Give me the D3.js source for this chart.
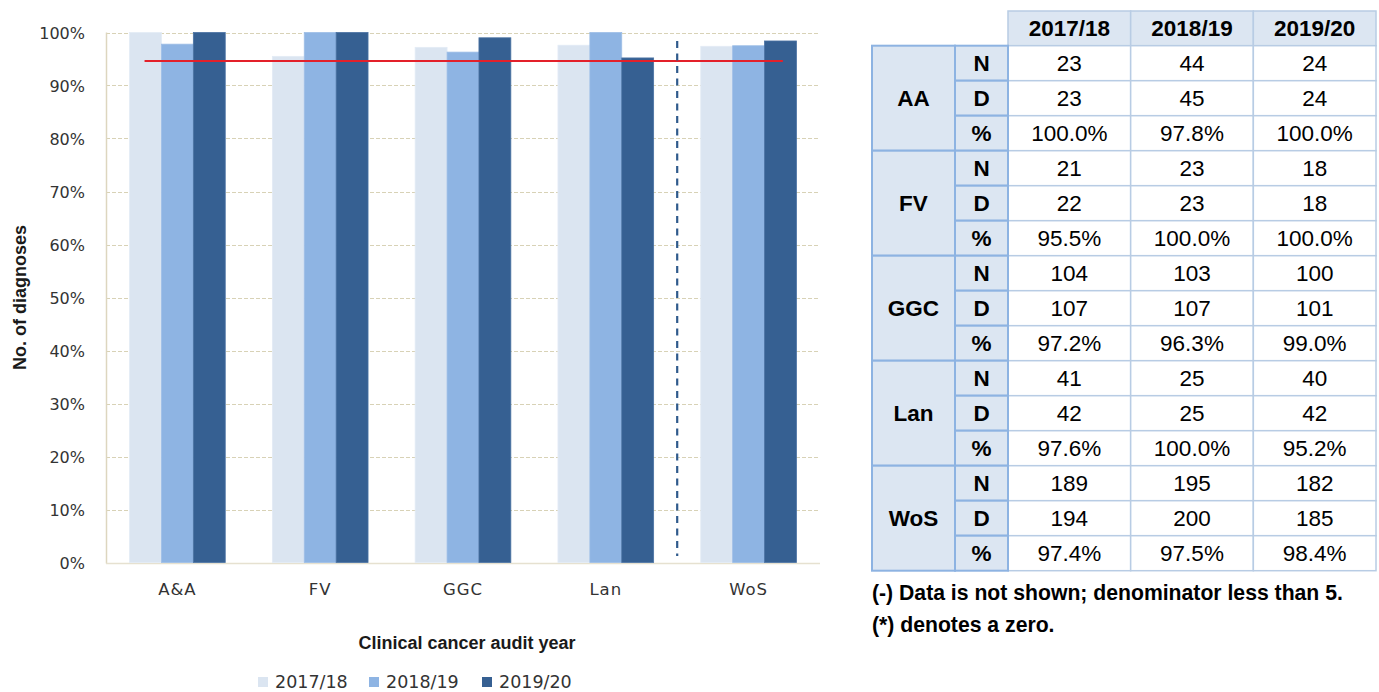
<!DOCTYPE html>
<html>
<head>
<meta charset="utf-8">
<script src="https://cdn.jsdelivr.net/npm/d3@7"></script>
<style>
  html, body { margin: 0; padding: 0; background: #fff; }
  svg { display: block; }
</style>
</head>
<body>
<svg id="root" width="1379" height="692"></svg>
<script>
// Health boards as labelled on the chart and in the table
const categories = ["A&A", "FV", "GGC", "Lan", "WoS"];
const boardCodes = ["AA", "FV", "GGC", "Lan", "WoS"];
const years = ["2017/18", "2018/19", "2019/20"];

// Numerators (N) and denominators (D) per board, one entry per year
const numerN = [[23, 44, 24], [21, 23, 18], [104, 103, 100], [41, 25, 40], [189, 195, 182]];
const denomD = [[23, 45, 24], [22, 23, 18], [107, 107, 101], [42, 25, 42], [194, 200, 185]];
// Percentages per board, one entry per year
const pctValues = [[100.0, 97.8, 100.0], [95.5, 100.0, 100.0], [97.2, 96.3, 99.0], [97.6, 100.0, 95.2], [97.4, 97.5, 98.4]];

const targetLevel = 94.6;
const yTicks = [0, 10, 20, 30, 40, 50, 60, 70, 80, 90, 100];
const rowLetters = ["N", "D", "%"];
const footnotes = ["(-) Data is not shown; denominator less than 5.", "(*) denotes a zero."];

const seriesColors = ["#dbe5f1", "#8eb4e3", "#366092"];
const seriesStroke = ["#e3ebf5", "#9dbde6", "#4a72a3"];

const svg = d3.select("#root");

// ---------- Bar chart ----------
const plot = { left: 106, right: 820, top: 32.5, bottom: 562.5 };

const x = d3.scaleBand().domain(categories).range([plot.left, plot.right]).paddingInner(0.33).paddingOuter(0.165);
const xs = d3.scaleBand().domain(years).range([0, x.bandwidth()]);
const y = d3.scaleLinear().domain([0, 100]).range([plot.bottom, plot.top]);
const xFull = d3.scaleBand().domain(categories).range([plot.left, plot.right]);

const chart = svg.append("g");
const chartFont = "DejaVu Sans, Verdana, sans-serif";
const titleFont = "Liberation Sans, Arial, sans-serif";

// Dashed gridlines
chart.append("g").selectAll("line").data(yTicks.filter(d => d > 0)).join("line")
  .attr("x1", plot.left).attr("x2", plot.right)
  .attr("y1", d => Math.round(y(d)) + 0.5).attr("y2", d => Math.round(y(d)) + 0.5)
  .attr("stroke", "#d8d2b6").attr("stroke-width", 1.2).attr("stroke-dasharray", "4,2");

// Axis lines
chart.append("line").attr("x1", plot.left + 0.5).attr("x2", plot.left + 0.5)
  .attr("y1", plot.top).attr("y2", plot.bottom + 1).attr("stroke", "#ddd6bf").attr("stroke-width", 1.5);
chart.append("line").attr("x1", plot.left).attr("x2", plot.right)
  .attr("y1", plot.bottom + 1).attr("y2", plot.bottom + 1).attr("stroke", "#e6e1d0").attr("stroke-width", 1.5);

// Bars
const groups = chart.append("g").selectAll("g").data(categories).join("g")
  .attr("transform", d => `translate(${x(d)},0)`);
groups.selectAll("rect").data((d, i) => years.map((yr, j) => ({ yr, j, v: pctValues[i][j] }))).join("rect")
  .attr("x", d => xs(d.yr))
  .attr("width", xs.bandwidth())
  .attr("y", d => y(d.v))
  .attr("height", d => y(0) - y(d.v))
  .attr("fill", d => seriesColors[d.j])
  .attr("stroke", d => seriesStroke[d.j])
  .attr("stroke-width", 0.8);

// Target line
chart.append("line")
  .attr("x1", xFull(categories[0]) + xFull.bandwidth() * 0.27)
  .attr("x2", xFull(categories[4]) + xFull.bandwidth() * 0.74)
  .attr("y1", y(targetLevel)).attr("y2", y(targetLevel))
  .attr("stroke", "#e3202a").attr("stroke-width", 2);

// Separator between boards and region total
chart.append("line")
  .attr("x1", xFull(categories[4])).attr("x2", xFull(categories[4]))
  .attr("y1", 41).attr("y2", 556)
  .attr("stroke", "#2f5a8c").attr("stroke-width", 2.2).attr("stroke-dasharray", "7,5.5");

// Y axis tick labels
const yAxis = d3.axisLeft(y).tickValues(yTicks).tickFormat(d => d + "%").tickSize(0).tickPadding(21);
const yg = chart.append("g").attr("transform", `translate(${plot.left},0)`).call(yAxis);
yg.select(".domain").remove();
yg.selectAll("text").attr("font-family", chartFont).attr("font-size", 16)
  .attr("fill", "#333").attr("dy", "0.36em");

// X axis labels
const xAxis = d3.axisBottom(xFull).tickSize(0).tickPadding(21);
const xg = chart.append("g").attr("transform", `translate(0,${plot.bottom})`).call(xAxis);
xg.select(".domain").remove();
xg.selectAll("text").attr("font-family", chartFont).attr("font-size", 16.5)
  .attr("fill", "#333").attr("letter-spacing", 1);

// Axis titles
chart.append("text").attr("x", (plot.left + plot.right) / 2 + 4).attr("y", 649)
  .attr("text-anchor", "middle").attr("font-family", titleFont)
  .attr("font-weight", "bold").attr("font-size", 18).attr("fill", "#1a1a1a")
  .text("Clinical cancer audit year");
chart.append("text")
  .attr("transform", `translate(26,${(plot.top + plot.bottom) / 2}) rotate(-90)`)
  .attr("text-anchor", "middle").attr("font-family", titleFont)
  .attr("font-weight", "bold").attr("font-size", 18).attr("fill", "#1a1a1a")
  .text("No. of diagnoses");

// Legend
const legendX = [258, 369, 482];
const legend = chart.append("g").selectAll("g").data(years).join("g")
  .attr("transform", (d, i) => `translate(${legendX[i]},677)`);
legend.append("rect").attr("width", 10).attr("height", 10).attr("fill", (d, i) => seriesColors[i]);
legend.append("text").attr("x", 17).attr("y", 5).attr("dy", "0.36em")
  .attr("font-family", chartFont).attr("font-size", 17.5).attr("fill", "#333")
  .text(d => d);

// ---------- Table ----------
const tbl = svg.append("g");
const tableFont = "Liberation Sans, Arial, sans-serif";
const colGroup = [872, 955];
const colLetter = [955, 1008];
const colYear = d3.scaleBand().domain(years).range([1008, 1376]);
const headerTop = 11, headerBottom = 45.7;
const rowIdx = d3.range(boardCodes.length * 3);
const row = d3.scaleBand().domain(rowIdx).range([headerBottom, 570.7]);

const lightFill = "#dce6f2";
const strongLine = "#8db3e2";
const softLine = "#b8cce4";

// Header cells
tbl.append("g").selectAll("rect").data(years).join("rect")
  .attr("x", d => colYear(d)).attr("y", headerTop)
  .attr("width", colYear.bandwidth()).attr("height", headerBottom - headerTop)
  .attr("fill", lightFill).attr("stroke", softLine).attr("stroke-width", 1.5);
tbl.append("g").selectAll("text").data(years).join("text")
  .attr("x", d => colYear(d) + colYear.bandwidth() / 2).attr("y", (headerTop + headerBottom) / 2)
  .attr("dy", "0.36em").attr("text-anchor", "middle")
  .attr("font-family", tableFont).attr("font-weight", "bold").attr("font-size", 22.5).attr("fill", "#000")
  .text(d => d);

// Data cells
const cells = [];
boardCodes.forEach((b, bi) => {
  years.forEach((yr, yi) => {
    cells.push({ r: bi * 3, yr, t: String(numerN[bi][yi]) });
    cells.push({ r: bi * 3 + 1, yr, t: String(denomD[bi][yi]) });
    cells.push({ r: bi * 3 + 2, yr, t: pctValues[bi][yi].toFixed(1) + "%" });
  });
});
tbl.append("g").selectAll("rect").data(cells).join("rect")
  .attr("x", d => colYear(d.yr)).attr("y", d => row(d.r))
  .attr("width", colYear.bandwidth()).attr("height", row.bandwidth())
  .attr("fill", "#fff").attr("stroke", softLine).attr("stroke-width", 1.5);
tbl.append("g").selectAll("text").data(cells).join("text")
  .attr("x", d => colYear(d.yr) + colYear.bandwidth() / 2).attr("y", d => row(d.r) + row.bandwidth() / 2)
  .attr("dy", "0.36em").attr("text-anchor", "middle")
  .attr("font-family", tableFont).attr("font-size", 22.5).attr("fill", "#000")
  .text(d => d.t);

// Letter column (N / D / %)
tbl.append("g").selectAll("rect").data(rowIdx).join("rect")
  .attr("x", colLetter[0]).attr("y", d => row(d))
  .attr("width", colLetter[1] - colLetter[0]).attr("height", row.bandwidth())
  .attr("fill", lightFill).attr("stroke", strongLine).attr("stroke-width", 2);
tbl.append("g").selectAll("text").data(rowIdx).join("text")
  .attr("x", (colLetter[0] + colLetter[1]) / 2).attr("y", d => row(d) + row.bandwidth() / 2)
  .attr("dy", "0.36em").attr("text-anchor", "middle")
  .attr("font-family", tableFont).attr("font-weight", "bold").attr("font-size", 22.5).attr("fill", "#000")
  .text(d => rowLetters[d % 3]);

// Board column (merged over three rows)
tbl.append("g").selectAll("rect").data(boardCodes).join("rect")
  .attr("x", colGroup[0]).attr("y", (d, i) => row(i * 3))
  .attr("width", colGroup[1] - colGroup[0]).attr("height", row.bandwidth() * 3)
  .attr("fill", lightFill).attr("stroke", strongLine).attr("stroke-width", 2);
tbl.append("g").selectAll("text").data(boardCodes).join("text")
  .attr("x", (colGroup[0] + colGroup[1]) / 2).attr("y", (d, i) => row(i * 3) + row.bandwidth() * 1.5)
  .attr("dy", "0.36em").attr("text-anchor", "middle")
  .attr("font-family", tableFont).attr("font-weight", "bold").attr("font-size", 22.5).attr("fill", "#000")
  .text(d => d);

// Footnotes
tbl.append("g").selectAll("text").data(footnotes).join("text")
  .attr("x", 872).attr("y", (d, i) => 592 + i * 32).attr("dy", "0.36em")
  .attr("font-family", tableFont).attr("font-weight", "bold").attr("font-size", 21.2).attr("fill", "#000")
  .text(d => d);
</script>
</body>
</html>
